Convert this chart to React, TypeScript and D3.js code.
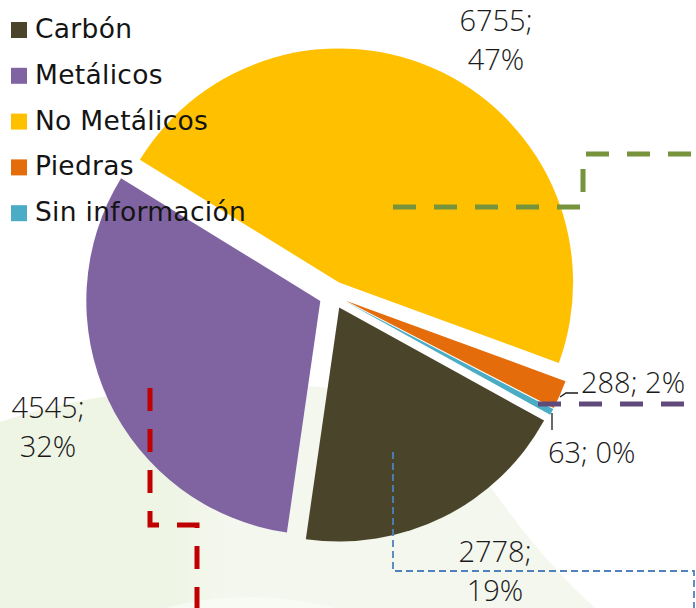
import React from "react";
import * as d3 from "d3";

const categories = ["Carbón", "Metálicos", "No Metálicos", "Piedras", "Sin información"];
const values = [2778, 4545, 6755, 288, 63];
const percentLabels = ["19%", "32%", "47%", "2%", "0%"];
const colors = ["#4A452A", "#8064A2", "#FFC000", "#E46C0A", "#4BACC6"];

const W = 696;
const H = 608;
const CX = 333;
const CY = 295;
const R = 234;
const EXPLODE = 14;
const START = (118.9 * Math.PI) / 180;
const LINE_H = 39;

const labelLayout = [
  { x: 495, y: 562, split: true, anchor: "middle" },
  { x: 48, y: 418, split: true, anchor: "middle" },
  { x: 496, y: 31, split: true, anchor: "middle" },
  { x: 581, y: 393, split: false, anchor: "start" },
  { x: 548, y: 463, split: false, anchor: "start" },
];

const LABEL_FONT = "'Open Sans', 'Noto Sans', sans-serif";
const LEGEND_FONT = "'DejaVu Sans', sans-serif";

export default function App() {
  const pie = d3
    .pie<number>()
    .sort(null)
    .value((d) => d)
    .startAngle(START)
    .endAngle(START + 2 * Math.PI);
  const arcs = pie(values);
  const arcGen = d3.arc<d3.PieArcDatum<number>>().innerRadius(0).outerRadius(R);

  return (
    <div style={{ position: "absolute", left: 0, top: 0 }}>
      <svg width={W} height={H} viewBox={`0 0 ${W} ${H}`} style={{ display: "block" }}>
        <defs>
          <linearGradient id="bgGrad" gradientUnits="userSpaceOnUse" x1="170" y1="0" x2="225" y2="0">
            <stop offset="0" stopColor="#EEF5E4" />
            <stop offset="1" stopColor="#F4F7EE" />
          </linearGradient>
        </defs>
        <rect x={0} y={0} width={W} height={H} fill="#FFFFFF" />
        <path
          d="M0,422 C80,395 200,378 300,385 C400,392 460,440 500,500 C540,555 570,585 595,608 L0,608 Z"
          fill="url(#bgGrad)"
        />
        <ellipse cx={250} cy={920} rx={330} ry={323} fill="#F8FAF4" />

        <g>
          {arcs.map((a, i) => {
            const mid = (a.startAngle + a.endAngle) / 2;
            const dx = EXPLODE * Math.sin(mid);
            const dy = -EXPLODE * Math.cos(mid);
            return (
              <path
                key={categories[i]}
                d={arcGen(a) || ""}
                transform={`translate(${CX + dx},${CY + dy})`}
                fill={colors[i]}
              />
            );
          })}
        </g>

        {/* decorative dashed connectors */}
        <path d="M393,207 H583 V154 H696" fill="none" stroke="#77933C" strokeWidth={5} strokeDasharray="23 18" />
        <path d="M538,404 H696" fill="none" stroke="#604A7B" strokeWidth={5} strokeDasharray="23 18" />
        <path d="M150,388 V525 H197 V608" fill="none" stroke="#C00000" strokeWidth={5} strokeDasharray="23 18" />
        <path d="M393,452 V571 H694 V608" fill="none" stroke="#4F81BD" strokeWidth={1.8} strokeDasharray="7 4" />

        {/* leader lines */}
        <path d="M560,397 L566,393 H578" fill="none" stroke="#1a1a1a" strokeWidth={1.3} />
        <path d="M552,413 V430" fill="none" stroke="#1a1a1a" strokeWidth={1.3} />

        {/* data labels */}
        <g fontFamily={LABEL_FONT} fontSize={29} fontWeight={300} fill="#1a1a1a">
          {values.map((v, i) => {
            const L = labelLayout[i];
            if (L.split) {
              return (
                <text key={i} x={L.x} y={L.y} textAnchor={L.anchor as any}>
                  <tspan x={L.x} y={L.y}>{`${v};`}</tspan>
                  <tspan x={L.x} y={L.y + LINE_H}>{percentLabels[i]}</tspan>
                </text>
              );
            }
            return (
              <text key={i} x={L.x} y={L.y} textAnchor={L.anchor as any}>
                {`${v}; ${percentLabels[i]}`}
              </text>
            );
          })}
        </g>

        {/* legend */}
        <g fontFamily={LEGEND_FONT} fontSize={26.5} fontWeight={400} fill="#141414">
          {categories.map((c, i) => (
            <g key={c} transform={`translate(11,${38 + i * 45.8})`}>
              <rect x={0} y={-16} width={16} height={16} fill={colors[i]} />
              <text x={24} y={0} letterSpacing={0.3}>{c}</text>
            </g>
          ))}
        </g>
      </svg>
    </div>
  );
}
